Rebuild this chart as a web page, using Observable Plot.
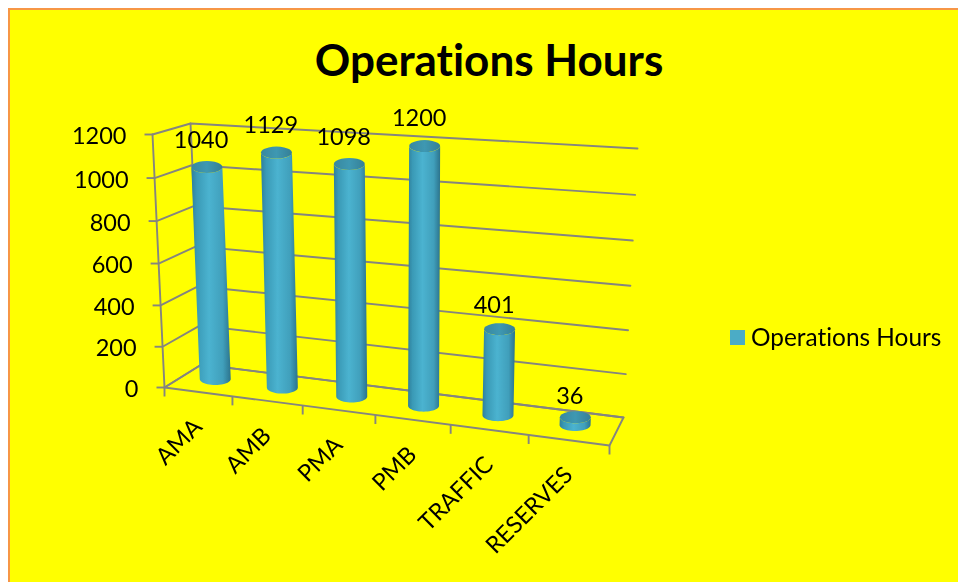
<!DOCTYPE html>
<html><head><meta charset="utf-8">
<script src="https://cdn.jsdelivr.net/npm/d3@7"></script>
<script src="https://cdn.jsdelivr.net/npm/@observablehq/plot@0.6"></script>
<style>
html,body{margin:0;padding:0;background:#fff;width:958px;height:582px;overflow:hidden;font-family:Lato,sans-serif;font-variant-ligatures:none}
#frame{position:absolute;left:8px;top:8px;width:950px;height:574px;background:#ffff00;border-left:2px solid #f79646;border-top:2px solid #f79646;box-sizing:border-box}
#chart{position:absolute;left:0;top:0;filter:blur(.4px)}
#title{position:absolute;left:0;width:978px;top:34px;text-align:center;font-weight:700;font-size:44px;line-height:50px;color:#000}
#legend{position:absolute;left:730px;top:322px;display:flex;align-items:center;font-size:24.4px;line-height:30px;color:#000;white-space:nowrap;filter:blur(.3px)}
#legend i{display:block;width:15px;height:15px;background:#4bacc6;margin-right:6px}
</style></head><body>
<div id="frame"></div><div id="chart"></div>
<div id="title">Operations Hours</div>
<div id="legend"><i></i><span>Operations Hours</span></div>
<script>
const categories = ["AMA","AMB","PMA","PMB","TRAFFIC","RESERVES"];
const hours = [1040,1129,1098,1200,401,36];
const valueTicks = [0,200,400,600,800,1000,1200];
const valueMax = 1200;

// Oblique view of the chart's box: where its corners land on the page.
const floorFront = [[164,387],[609,445]], floorBack = [[201,364],[623,417]];
const topFront = [[152,134],[617,163]], topBack = [[190,123],[637,148]];
const mix = (a,b,t)=>[a[0]+(b[0]-a[0])*t, a[1]+(b[1]-a[1])*t];
const along = u => u/(u+1.11*(1-u));           // foreshortening along the category axis
const rise = v => v*(0.96+0.04*v);             // foreshortening along the value axis
function project(u,depth,value){
  const p = along(u), h = rise(value/valueMax);
  const low = mix(mix(...floorFront,p),mix(...floorBack,p),depth);
  const high = mix(mix(...topFront,p),mix(...topBack,p),depth);
  const q = mix(low,high,h);
  return {x:q[0],y:q[1]};
}
const n = categories.length, R = 15.5, ry = 6, barDepth = 0.54, barScale = 0.99, labelScale = 1.015, barNudge = 0.005;

// grid
const grid = [];
valueTicks.forEach(t=>{
  for (const [u,d] of [[0,0],[0,1],[1,1]]) grid.push({k:"g"+t,...project(u,d,t)});
});
for (const [u,d] of [[0,0],[1,0],[1,1],[0,1],[0,0]]) grid.push({k:"floor",...project(u,d,0)});
grid.push({k:"axis",...project(0,0,0)}); grid.push({k:"axis",...project(0,0,valueMax)});
grid.push({k:"backaxis",...project(0,1,0)}); grid.push({k:"backaxis",...project(0,1,valueMax)});

const yTickRows = valueTicks.map(t=>({t,...project(0,0,t)}));
const xTickRows = d3.range(n+1).map(i=>project(i/n,0,0));
const catRows = categories.map((c,i)=>({c,...project((i+.5)/n,0,0)}));

// cylinders
const bodies=[], caps=[], labels=[];
hours.forEach((v,i)=>{
  const u=(i+.5)/n-barNudge;
  const b=project(u,barDepth,0), t=project(u,barDepth,v*barScale), l=project(u,barDepth,v*labelScale);
  const arc=(c,a0,a1,k)=>d3.range(25).forEach(j=>{
    const a=a0+(a1-a0)*j/24; k.push({k:categories[i],x:c.x+R*Math.cos(a),y:c.y+ry*Math.sin(a)});
  });
  arc(t,Math.PI,0,bodies); arc(b,0,Math.PI,bodies);
  arc(t,0,2*Math.PI,caps);
  labels.push({v,x:l.x-5.5,y:l.y-ry});
});

const defs = () => {
  const d = d3.create("svg:defs");
  const g = (id,stops)=>{
    const lg=d.append("linearGradient").attr("id",id);
    stops.forEach(([o,c])=>lg.append("stop").attr("offset",o).attr("stop-color",c));
  };
  g("body",[[0,"#2f7f9b"],[.14,"#3a9ab6"],[.45,"#4bb3d0"],[.8,"#409fbb"],[1,"#2c738c"]]);
  g("cap",[[0,"#38889f"],[.5,"#3e98b2"],[1,"#357f96"]]);
  return d.node();
};

const gridColor="#85857f";
const plot = Plot.plot({
  width:958,height:582,margin:0,
  x:{domain:[0,958],range:[0,958],axis:null},
  y:{domain:[0,582],range:[0,582],axis:null},
  style:{background:"transparent",fontFamily:"Lato, sans-serif",fontVariantLigatures:"none"},
  marks:[
    defs,
    Plot.line(grid,{x:"x",y:"y",z:"k",stroke:gridColor,strokeWidth:1.9}),
    Plot.link(yTickRows,{x1:"x",y1:"y",x2:d=>d.x-8,y2:"y",stroke:gridColor,strokeWidth:1.9}),
    Plot.link(xTickRows,{x1:"x",y1:"y",x2:"x",y2:d=>d.y+9,stroke:gridColor,strokeWidth:1.9}),
    Plot.line(bodies,{x:"x",y:"y",z:"k",fill:"url(#body)",stroke:"none"}),
    Plot.line(caps,{x:"x",y:"y",z:"k",fill:"url(#cap)",stroke:"none"}),
    Plot.text(yTickRows,{x:"x",y:"y",text:d=>String(d.t),textAnchor:"end",dx:-26,dy:2,fontSize:23.5,fill:"#000"}),
    Plot.text(catRows,{x:"x",y:"y",text:"c",textAnchor:"end",rotate:-45,dx:0,dy:31,fontSize:23.5,fill:"#000"}),
    Plot.text(labels,{x:"x",y:"y",text:d=>String(d.v),dy:-15,fontSize:23.5,fill:"#000"})
  ]
});
document.getElementById("chart").append(plot);
</script>
</body></html>
